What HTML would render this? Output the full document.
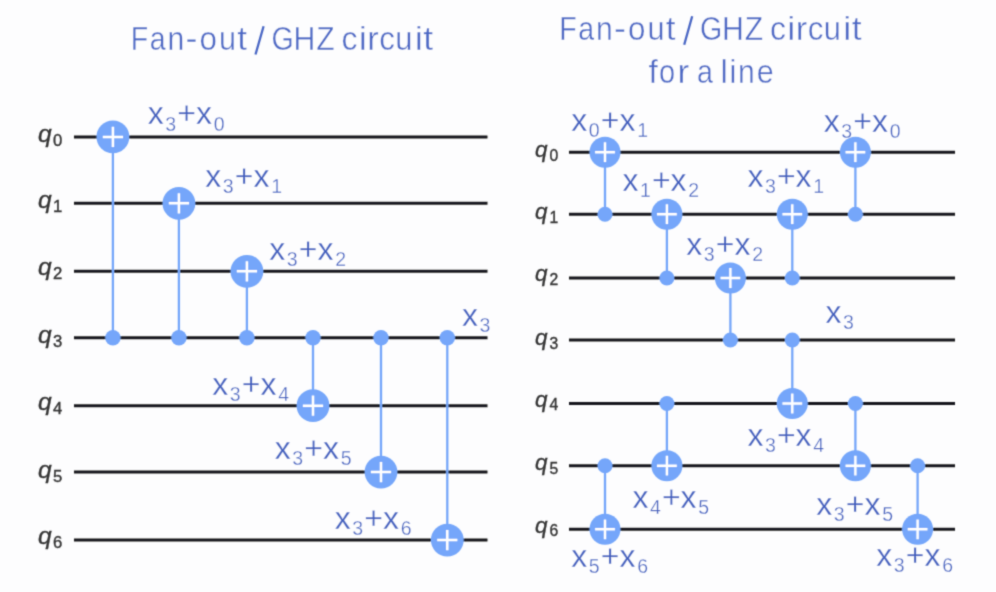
<!DOCTYPE html>
<html><head><meta charset="utf-8"><title>Fan-out / GHZ circuit</title>
<style>
html,body{margin:0;padding:0;background:#fdfdfe;}
body{width:996px;height:592px;overflow:hidden;}
svg{display:block;font-family:"Liberation Sans",sans-serif;}
</style></head><body>
<svg width="996" height="592" viewBox="0 0 996 592">
<defs><filter id="b" x="0" y="0" width="996" height="592" filterUnits="userSpaceOnUse"><feConvolveMatrix order="3" kernelMatrix="0.02768 0.11101 0.02768 0.11101 0.44521 0.11101 0.02768 0.11101 0.02768" divisor="1" edgeMode="none"/></filter></defs>
<rect width="996" height="592" fill="#fdfdfe"/>
<g filter="url(#b)">
<g fill="#4866c4" font-size="33.6" style="font-kerning:none" stroke="#fdfdfe" stroke-width="0.4">
<text x="130.68" y="49.9" textLength="17.45" lengthAdjust="spacingAndGlyphs">F</text>
<text x="149.75" y="49.9" textLength="15.88" lengthAdjust="spacingAndGlyphs">a</text>
<text x="167.50" y="49.9" textLength="16.76" lengthAdjust="spacingAndGlyphs">n</text>
<text x="185.50" y="49.9" textLength="12.00" lengthAdjust="spacingAndGlyphs">-</text>
<text x="199.58" y="49.9" textLength="17.43" lengthAdjust="spacingAndGlyphs">o</text>
<text x="218.91" y="49.9" textLength="17.02" lengthAdjust="spacingAndGlyphs">u</text>
<text x="237.37" y="49.9" textLength="9.79" lengthAdjust="spacingAndGlyphs">t</text>
<text x="271.39" y="49.9" textLength="22.21" lengthAdjust="spacingAndGlyphs">G</text>
<text x="293.62" y="49.9" textLength="21.85" lengthAdjust="spacingAndGlyphs">H</text>
<text x="316.24" y="49.9" textLength="18.40" lengthAdjust="spacingAndGlyphs">Z</text>
<text x="341.44" y="49.9" textLength="16.00" lengthAdjust="spacingAndGlyphs">c</text>
<text x="358.66" y="49.9" textLength="8.09" lengthAdjust="spacingAndGlyphs">i</text>
<text x="367.32" y="49.9" textLength="11.46" lengthAdjust="spacingAndGlyphs">r</text>
<text x="379.37" y="49.9" textLength="15.66" lengthAdjust="spacingAndGlyphs">c</text>
<text x="395.20" y="49.9" textLength="17.15" lengthAdjust="spacingAndGlyphs">u</text>
<text x="414.86" y="49.9" textLength="8.09" lengthAdjust="spacingAndGlyphs">i</text>
<text x="423.26" y="49.9" textLength="9.90" lengthAdjust="spacingAndGlyphs">t</text>
<text x="559.18" y="39.5" textLength="17.45" lengthAdjust="spacingAndGlyphs">F</text>
<text x="578.25" y="39.5" textLength="15.88" lengthAdjust="spacingAndGlyphs">a</text>
<text x="596.00" y="39.5" textLength="16.76" lengthAdjust="spacingAndGlyphs">n</text>
<text x="614.00" y="39.5" textLength="12.00" lengthAdjust="spacingAndGlyphs">-</text>
<text x="628.08" y="39.5" textLength="17.43" lengthAdjust="spacingAndGlyphs">o</text>
<text x="647.41" y="39.5" textLength="17.02" lengthAdjust="spacingAndGlyphs">u</text>
<text x="665.87" y="39.5" textLength="9.79" lengthAdjust="spacingAndGlyphs">t</text>
<text x="699.89" y="39.5" textLength="22.21" lengthAdjust="spacingAndGlyphs">G</text>
<text x="722.12" y="39.5" textLength="21.85" lengthAdjust="spacingAndGlyphs">H</text>
<text x="744.74" y="39.5" textLength="18.40" lengthAdjust="spacingAndGlyphs">Z</text>
<text x="769.94" y="39.5" textLength="16.00" lengthAdjust="spacingAndGlyphs">c</text>
<text x="787.16" y="39.5" textLength="8.09" lengthAdjust="spacingAndGlyphs">i</text>
<text x="795.82" y="39.5" textLength="11.46" lengthAdjust="spacingAndGlyphs">r</text>
<text x="807.87" y="39.5" textLength="15.66" lengthAdjust="spacingAndGlyphs">c</text>
<text x="823.70" y="39.5" textLength="17.15" lengthAdjust="spacingAndGlyphs">u</text>
<text x="843.36" y="39.5" textLength="8.09" lengthAdjust="spacingAndGlyphs">i</text>
<text x="851.76" y="39.5" textLength="9.90" lengthAdjust="spacingAndGlyphs">t</text>
<text x="648.62" y="82.5" textLength="9.33" lengthAdjust="spacingAndGlyphs">f</text>
<text x="658.88" y="82.5" textLength="16.14" lengthAdjust="spacingAndGlyphs">o</text>
<text x="677.46" y="82.5" textLength="11.72" lengthAdjust="spacingAndGlyphs">r</text>
<text x="696.88" y="82.5" textLength="15.92" lengthAdjust="spacingAndGlyphs">a</text>
<text x="720.58" y="82.5" textLength="7.33" lengthAdjust="spacingAndGlyphs">l</text>
<text x="729.55" y="82.5" textLength="6.82" lengthAdjust="spacingAndGlyphs">i</text>
<text x="738.10" y="82.5" textLength="16.76" lengthAdjust="spacingAndGlyphs">n</text>
<text x="756.81" y="82.5" textLength="16.95" lengthAdjust="spacingAndGlyphs">e</text>
</g>
<path d="M263.6 26.3L255.5 54.5M692.2 16.2L684.2 44.7" stroke="#4866c4" stroke-width="2.3" fill="none"/>
<line x1="74" y1="136.90" x2="487.5" y2="136.90" stroke="#18181c" stroke-width="3.0"/>
<line x1="74" y1="203.30" x2="487.5" y2="203.30" stroke="#18181c" stroke-width="3.0"/>
<line x1="74" y1="271.30" x2="487.5" y2="271.30" stroke="#18181c" stroke-width="3.0"/>
<line x1="74" y1="337.80" x2="487.5" y2="337.80" stroke="#18181c" stroke-width="3.0"/>
<line x1="74" y1="405.70" x2="487.5" y2="405.70" stroke="#18181c" stroke-width="3.0"/>
<line x1="74" y1="472.10" x2="487.5" y2="472.10" stroke="#18181c" stroke-width="3.0"/>
<line x1="74" y1="540.10" x2="487.5" y2="540.10" stroke="#18181c" stroke-width="3.0"/>
<text x="37.90" y="141.90" font-size="24.6" font-style="italic" fill="#363636" stroke="#363636" stroke-width="0.35" text-anchor="start">q</text>
<text x="53.10" y="145.90" font-size="16.7" fill="#363636" stroke="#363636" stroke-width="0.4" text-anchor="start">0</text>
<text x="37.90" y="208.45" font-size="24.6" font-style="italic" fill="#363636" stroke="#363636" stroke-width="0.35" text-anchor="start">q</text>
<text x="53.10" y="212.45" font-size="16.7" fill="#363636" stroke="#363636" stroke-width="0.4" text-anchor="start">1</text>
<text x="37.90" y="274.80" font-size="24.6" font-style="italic" fill="#363636" stroke="#363636" stroke-width="0.35" text-anchor="start">q</text>
<text x="53.10" y="278.80" font-size="16.7" fill="#363636" stroke="#363636" stroke-width="0.4" text-anchor="start">2</text>
<text x="37.90" y="343.45" font-size="24.6" font-style="italic" fill="#363636" stroke="#363636" stroke-width="0.35" text-anchor="start">q</text>
<text x="53.10" y="347.45" font-size="16.7" fill="#363636" stroke="#363636" stroke-width="0.4" text-anchor="start">3</text>
<text x="37.90" y="409.80" font-size="24.6" font-style="italic" fill="#363636" stroke="#363636" stroke-width="0.35" text-anchor="start">q</text>
<text x="53.10" y="413.80" font-size="16.7" fill="#363636" stroke="#363636" stroke-width="0.4" text-anchor="start">4</text>
<text x="37.90" y="478.30" font-size="24.6" font-style="italic" fill="#363636" stroke="#363636" stroke-width="0.35" text-anchor="start">q</text>
<text x="53.10" y="482.30" font-size="16.7" fill="#363636" stroke="#363636" stroke-width="0.4" text-anchor="start">5</text>
<text x="37.90" y="543.70" font-size="24.6" font-style="italic" fill="#363636" stroke="#363636" stroke-width="0.35" text-anchor="start">q</text>
<text x="53.10" y="547.70" font-size="16.7" fill="#363636" stroke="#363636" stroke-width="0.4" text-anchor="start">6</text>
<line x1="112.90" y1="136.90" x2="112.90" y2="337.80" stroke="#74a6fa" stroke-width="2.3"/>
<circle cx="112.90" cy="337.80" r="7.7" fill="#74a6fa"/>
<circle cx="112.90" cy="136.90" r="16.4" fill="#74a6fa"/>
<path d="M102.80 136.90H123.00M112.90 126.80V147.00" stroke="#fff" stroke-width="2.5" fill="none"/>
<line x1="178.90" y1="203.30" x2="178.90" y2="337.80" stroke="#74a6fa" stroke-width="2.3"/>
<circle cx="178.90" cy="337.80" r="7.7" fill="#74a6fa"/>
<circle cx="178.90" cy="203.30" r="16.4" fill="#74a6fa"/>
<path d="M168.80 203.30H189.00M178.90 193.20V213.40" stroke="#fff" stroke-width="2.5" fill="none"/>
<line x1="246.90" y1="271.30" x2="246.90" y2="337.80" stroke="#74a6fa" stroke-width="2.3"/>
<circle cx="246.90" cy="337.80" r="7.7" fill="#74a6fa"/>
<circle cx="246.90" cy="271.30" r="16.4" fill="#74a6fa"/>
<path d="M236.80 271.30H257.00M246.90 261.20V281.40" stroke="#fff" stroke-width="2.5" fill="none"/>
<line x1="313.00" y1="405.70" x2="313.00" y2="337.80" stroke="#74a6fa" stroke-width="2.3"/>
<circle cx="313.00" cy="337.80" r="7.7" fill="#74a6fa"/>
<circle cx="313.00" cy="405.70" r="16.4" fill="#74a6fa"/>
<path d="M302.90 405.70H323.10M313.00 395.60V415.80" stroke="#fff" stroke-width="2.5" fill="none"/>
<line x1="381.00" y1="472.10" x2="381.00" y2="337.80" stroke="#74a6fa" stroke-width="2.3"/>
<circle cx="381.00" cy="337.80" r="7.7" fill="#74a6fa"/>
<circle cx="381.00" cy="472.10" r="16.4" fill="#74a6fa"/>
<path d="M370.90 472.10H391.10M381.00 462.00V482.20" stroke="#fff" stroke-width="2.5" fill="none"/>
<line x1="447.30" y1="540.10" x2="447.30" y2="337.80" stroke="#74a6fa" stroke-width="2.3"/>
<circle cx="447.30" cy="337.80" r="7.7" fill="#74a6fa"/>
<circle cx="447.30" cy="540.10" r="16.4" fill="#74a6fa"/>
<path d="M437.20 540.10H457.40M447.30 530.00V550.20" stroke="#fff" stroke-width="2.5" fill="none"/>
<line x1="569" y1="152.20" x2="955" y2="152.20" stroke="#18181c" stroke-width="3.0"/>
<line x1="569" y1="214.20" x2="955" y2="214.20" stroke="#18181c" stroke-width="3.0"/>
<line x1="569" y1="278.00" x2="955" y2="278.00" stroke="#18181c" stroke-width="3.0"/>
<line x1="569" y1="340.00" x2="955" y2="340.00" stroke="#18181c" stroke-width="3.0"/>
<line x1="569" y1="403.50" x2="955" y2="403.50" stroke="#18181c" stroke-width="3.0"/>
<line x1="569" y1="465.70" x2="955" y2="465.70" stroke="#18181c" stroke-width="3.0"/>
<line x1="569" y1="529.30" x2="955" y2="529.30" stroke="#18181c" stroke-width="3.0"/>
<text x="535.00" y="157.12" font-size="22.5" font-style="italic" fill="#363636" stroke="#363636" stroke-width="0.35" text-anchor="start">q</text>
<text x="549.60" y="160.72" font-size="15.7" fill="#363636" stroke="#363636" stroke-width="0.4" text-anchor="start">0</text>
<text x="535.00" y="219.47" font-size="22.5" font-style="italic" fill="#363636" stroke="#363636" stroke-width="0.35" text-anchor="start">q</text>
<text x="549.60" y="223.07" font-size="15.7" fill="#363636" stroke="#363636" stroke-width="0.4" text-anchor="start">1</text>
<text x="535.00" y="281.47" font-size="22.5" font-style="italic" fill="#363636" stroke="#363636" stroke-width="0.35" text-anchor="start">q</text>
<text x="549.60" y="285.07" font-size="15.7" fill="#363636" stroke="#363636" stroke-width="0.4" text-anchor="start">2</text>
<text x="535.00" y="345.22" font-size="22.5" font-style="italic" fill="#363636" stroke="#363636" stroke-width="0.35" text-anchor="start">q</text>
<text x="549.60" y="348.82" font-size="15.7" fill="#363636" stroke="#363636" stroke-width="0.4" text-anchor="start">3</text>
<text x="535.00" y="406.72" font-size="22.5" font-style="italic" fill="#363636" stroke="#363636" stroke-width="0.35" text-anchor="start">q</text>
<text x="549.60" y="410.32" font-size="15.7" fill="#363636" stroke="#363636" stroke-width="0.4" text-anchor="start">4</text>
<text x="535.00" y="469.97" font-size="22.5" font-style="italic" fill="#363636" stroke="#363636" stroke-width="0.35" text-anchor="start">q</text>
<text x="549.60" y="473.57" font-size="15.7" fill="#363636" stroke="#363636" stroke-width="0.4" text-anchor="start">5</text>
<text x="535.00" y="532.62" font-size="22.5" font-style="italic" fill="#363636" stroke="#363636" stroke-width="0.35" text-anchor="start">q</text>
<text x="549.60" y="536.22" font-size="15.7" fill="#363636" stroke="#363636" stroke-width="0.4" text-anchor="start">6</text>
<line x1="605.00" y1="152.20" x2="605.00" y2="214.20" stroke="#74a6fa" stroke-width="2.3"/>
<circle cx="605.00" cy="214.20" r="7.5" fill="#74a6fa"/>
<circle cx="605.00" cy="152.20" r="15.5" fill="#74a6fa"/>
<path d="M595.10 152.20H614.90M605.00 142.30V162.10" stroke="#fff" stroke-width="2.4" fill="none"/>
<line x1="605.00" y1="529.30" x2="605.00" y2="465.70" stroke="#74a6fa" stroke-width="2.3"/>
<circle cx="605.00" cy="465.70" r="7.5" fill="#74a6fa"/>
<circle cx="605.00" cy="529.30" r="15.5" fill="#74a6fa"/>
<path d="M595.10 529.30H614.90M605.00 519.40V539.20" stroke="#fff" stroke-width="2.4" fill="none"/>
<line x1="666.90" y1="214.20" x2="666.90" y2="278.00" stroke="#74a6fa" stroke-width="2.3"/>
<circle cx="666.90" cy="278.00" r="7.5" fill="#74a6fa"/>
<circle cx="666.90" cy="214.20" r="15.5" fill="#74a6fa"/>
<path d="M657.00 214.20H676.80M666.90 204.30V224.10" stroke="#fff" stroke-width="2.4" fill="none"/>
<line x1="666.90" y1="465.70" x2="666.90" y2="403.50" stroke="#74a6fa" stroke-width="2.3"/>
<circle cx="666.90" cy="403.50" r="7.5" fill="#74a6fa"/>
<circle cx="666.90" cy="465.70" r="15.5" fill="#74a6fa"/>
<path d="M657.00 465.70H676.80M666.90 455.80V475.60" stroke="#fff" stroke-width="2.4" fill="none"/>
<line x1="730.40" y1="278.00" x2="730.40" y2="340.00" stroke="#74a6fa" stroke-width="2.3"/>
<circle cx="730.40" cy="340.00" r="7.5" fill="#74a6fa"/>
<circle cx="730.40" cy="278.00" r="15.5" fill="#74a6fa"/>
<path d="M720.50 278.00H740.30M730.40 268.10V287.90" stroke="#fff" stroke-width="2.4" fill="none"/>
<line x1="792.30" y1="214.20" x2="792.30" y2="278.00" stroke="#74a6fa" stroke-width="2.3"/>
<circle cx="792.30" cy="278.00" r="7.5" fill="#74a6fa"/>
<circle cx="792.30" cy="214.20" r="15.5" fill="#74a6fa"/>
<path d="M782.40 214.20H802.20M792.30 204.30V224.10" stroke="#fff" stroke-width="2.4" fill="none"/>
<line x1="792.30" y1="403.50" x2="792.30" y2="340.00" stroke="#74a6fa" stroke-width="2.3"/>
<circle cx="792.30" cy="340.00" r="7.5" fill="#74a6fa"/>
<circle cx="792.30" cy="403.50" r="15.5" fill="#74a6fa"/>
<path d="M782.40 403.50H802.20M792.30 393.60V413.40" stroke="#fff" stroke-width="2.4" fill="none"/>
<line x1="855.40" y1="152.20" x2="855.40" y2="214.20" stroke="#74a6fa" stroke-width="2.3"/>
<circle cx="855.40" cy="214.20" r="7.5" fill="#74a6fa"/>
<circle cx="855.40" cy="152.20" r="15.5" fill="#74a6fa"/>
<path d="M845.50 152.20H865.30M855.40 142.30V162.10" stroke="#fff" stroke-width="2.4" fill="none"/>
<line x1="855.40" y1="465.70" x2="855.40" y2="403.50" stroke="#74a6fa" stroke-width="2.3"/>
<circle cx="855.40" cy="403.50" r="7.5" fill="#74a6fa"/>
<circle cx="855.40" cy="465.70" r="15.5" fill="#74a6fa"/>
<path d="M845.50 465.70H865.30M855.40 455.80V475.60" stroke="#fff" stroke-width="2.4" fill="none"/>
<line x1="917.60" y1="529.30" x2="917.60" y2="465.70" stroke="#74a6fa" stroke-width="2.3"/>
<circle cx="917.60" cy="465.70" r="7.5" fill="#74a6fa"/>
<circle cx="917.60" cy="529.30" r="15.5" fill="#74a6fa"/>
<path d="M907.70 529.30H927.50M917.60 519.40V539.20" stroke="#fff" stroke-width="2.4" fill="none"/>
<g fill="#405ebe" text-anchor="middle" stroke="#fdfdfe" stroke-width="0.3">
<text x="155.80" y="124.10" font-size="32.0">x</text>
<text x="170.70" y="130.60" font-size="19.5">3</text>
<text x="186.65" y="124.10" font-size="32.0">+</text>
<text x="203.90" y="124.10" font-size="32.0">x</text>
<text x="219.10" y="130.60" font-size="19.5">0</text>
<text x="213.30" y="186.90" font-size="32.0">x</text>
<text x="228.20" y="193.40" font-size="19.5">3</text>
<text x="244.15" y="186.90" font-size="32.0">+</text>
<text x="261.40" y="186.90" font-size="32.0">x</text>
<text x="276.60" y="193.40" font-size="19.5">1</text>
<text x="277.30" y="259.90" font-size="32.0">x</text>
<text x="292.20" y="266.40" font-size="19.5">3</text>
<text x="308.15" y="259.90" font-size="32.0">+</text>
<text x="325.40" y="259.90" font-size="32.0">x</text>
<text x="340.60" y="266.40" font-size="19.5">2</text>
<text x="470.00" y="325.60" font-size="32.0">x</text>
<text x="484.90" y="332.10" font-size="19.5">3</text>
<text x="220.30" y="394.90" font-size="32.0">x</text>
<text x="235.20" y="401.40" font-size="19.5">3</text>
<text x="251.15" y="394.90" font-size="32.0">+</text>
<text x="268.40" y="394.90" font-size="32.0">x</text>
<text x="283.60" y="401.40" font-size="19.5">4</text>
<text x="282.80" y="458.90" font-size="32.0">x</text>
<text x="297.70" y="465.40" font-size="19.5">3</text>
<text x="313.65" y="458.90" font-size="32.0">+</text>
<text x="330.90" y="458.90" font-size="32.0">x</text>
<text x="346.10" y="465.40" font-size="19.5">5</text>
<text x="342.80" y="528.90" font-size="32.0">x</text>
<text x="357.70" y="535.40" font-size="19.5">3</text>
<text x="373.65" y="528.90" font-size="32.0">+</text>
<text x="390.90" y="528.90" font-size="32.0">x</text>
<text x="406.10" y="535.40" font-size="19.5">6</text>
<text x="579.30" y="130.90" font-size="32.0">x</text>
<text x="594.20" y="137.40" font-size="19.5">0</text>
<text x="610.15" y="130.90" font-size="32.0">+</text>
<text x="627.40" y="130.90" font-size="32.0">x</text>
<text x="642.60" y="137.40" font-size="19.5">1</text>
<text x="630.50" y="190.90" font-size="32.0">x</text>
<text x="645.40" y="197.40" font-size="19.5">1</text>
<text x="661.35" y="190.90" font-size="32.0">+</text>
<text x="678.60" y="190.90" font-size="32.0">x</text>
<text x="693.80" y="197.40" font-size="19.5">2</text>
<text x="694.30" y="254.90" font-size="32.0">x</text>
<text x="709.20" y="261.40" font-size="19.5">3</text>
<text x="725.15" y="254.90" font-size="32.0">+</text>
<text x="742.40" y="254.90" font-size="32.0">x</text>
<text x="757.60" y="261.40" font-size="19.5">2</text>
<text x="755.50" y="186.90" font-size="32.0">x</text>
<text x="770.40" y="193.40" font-size="19.5">3</text>
<text x="786.35" y="186.90" font-size="32.0">+</text>
<text x="803.60" y="186.90" font-size="32.0">x</text>
<text x="818.80" y="193.40" font-size="19.5">1</text>
<text x="831.80" y="131.90" font-size="32.0">x</text>
<text x="846.70" y="138.40" font-size="19.5">3</text>
<text x="862.65" y="131.90" font-size="32.0">+</text>
<text x="879.90" y="131.90" font-size="32.0">x</text>
<text x="895.10" y="138.40" font-size="19.5">0</text>
<text x="833.50" y="322.70" font-size="32.0">x</text>
<text x="848.40" y="329.20" font-size="19.5">3</text>
<text x="755.50" y="445.90" font-size="32.0">x</text>
<text x="770.40" y="452.40" font-size="19.5">3</text>
<text x="786.35" y="445.90" font-size="32.0">+</text>
<text x="803.60" y="445.90" font-size="32.0">x</text>
<text x="818.80" y="452.40" font-size="19.5">4</text>
<text x="640.50" y="507.90" font-size="32.0">x</text>
<text x="655.40" y="514.40" font-size="19.5">4</text>
<text x="671.35" y="507.90" font-size="32.0">+</text>
<text x="688.60" y="507.90" font-size="32.0">x</text>
<text x="703.80" y="514.40" font-size="19.5">5</text>
<text x="824.30" y="514.90" font-size="32.0">x</text>
<text x="839.20" y="521.40" font-size="19.5">3</text>
<text x="855.15" y="514.90" font-size="32.0">+</text>
<text x="872.40" y="514.90" font-size="32.0">x</text>
<text x="887.60" y="521.40" font-size="19.5">5</text>
<text x="579.30" y="566.90" font-size="32.0">x</text>
<text x="594.20" y="573.40" font-size="19.5">5</text>
<text x="610.15" y="566.90" font-size="32.0">+</text>
<text x="627.40" y="566.90" font-size="32.0">x</text>
<text x="642.60" y="573.40" font-size="19.5">6</text>
<text x="884.30" y="565.90" font-size="32.0">x</text>
<text x="899.20" y="572.40" font-size="19.5">3</text>
<text x="915.15" y="565.90" font-size="32.0">+</text>
<text x="932.40" y="565.90" font-size="32.0">x</text>
<text x="947.60" y="572.40" font-size="19.5">6</text>
</g>
</g>
</svg>
</body></html>
